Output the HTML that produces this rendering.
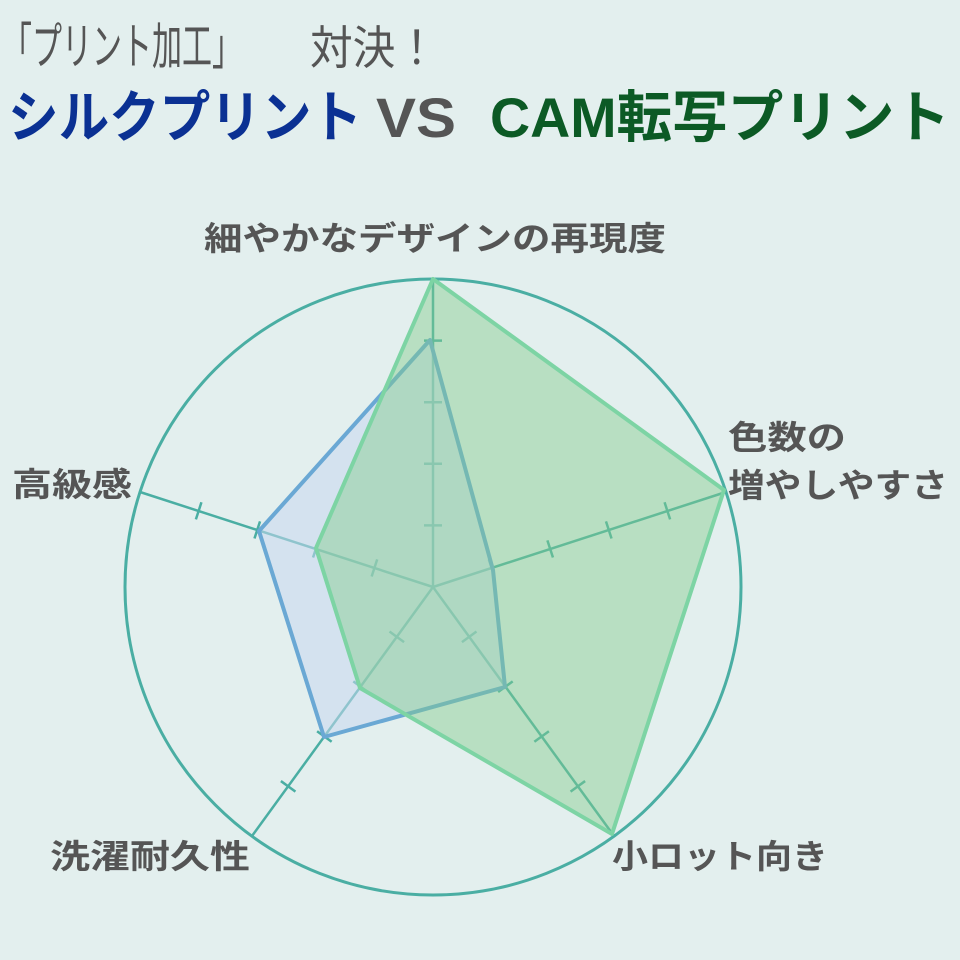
<!DOCTYPE html>
<html><head><meta charset="utf-8"><style>
html,body{margin:0;padding:0;background:#e3efee;}
svg{display:block}
text{font-family:"Liberation Sans","Noto Sans CJK JP",sans-serif;}
</style></head><body>
<svg width="960" height="960" viewBox="0 0 960 960" xmlns="http://www.w3.org/2000/svg">
<rect width="960" height="960" fill="#e3efee"/>
<text x="2" y="64" style="font-size:50px" fill="#555" textLength="240" lengthAdjust="spacingAndGlyphs">「プリント加工」</text>
<text x="310" y="64" style="font-size:46px" fill="#555" textLength="128" lengthAdjust="spacingAndGlyphs">対決！</text>
<g font-weight="bold" style="font-size:56px">
<text x="8" y="137" fill="#0b3193" textLength="354" lengthAdjust="spacingAndGlyphs">シルクプリント</text>
<text x="376" y="137" fill="#555" textLength="80" lengthAdjust="spacingAndGlyphs">VS</text>
<text x="490" y="137" fill="#0c5a25" textLength="460" lengthAdjust="spacingAndGlyphs">CAM転写プリント</text>
</g>
<circle cx="433" cy="587" r="308" fill="none" stroke="#4aaea3" stroke-width="3"/>
<g stroke="#4aaea3" stroke-width="2.5">
<line x1="433" y1="587" x2="433" y2="279"/>
<line x1="433" y1="587" x2="726" y2="492"/>
<line x1="433" y1="587" x2="614" y2="836"/>
<line x1="433" y1="587" x2="252" y2="836"/>
<line x1="433" y1="587" x2="140" y2="492"/>
</g>
<g stroke="#4aaea3" stroke-width="2.5" id="ticks"></g>
<polygon points="430,340 493,570 505,687 324,737 259,531" fill="rgba(200,215,240,0.55)" stroke="#6aa8d4" stroke-width="4" stroke-linejoin="round"/>
<polygon points="433,279 724,490 612,834 360,688 316,548" fill="rgba(130,205,140,0.45)" stroke="#7dd4a4" stroke-width="4" stroke-linejoin="round"/>
<g font-weight="bold" font-size="33" fill="#555">
<text x="204" y="250" textLength="462" lengthAdjust="spacingAndGlyphs">細やかなデザインの再現度</text>
<text x="728" y="449" textLength="118" lengthAdjust="spacingAndGlyphs">色数の</text>
<text x="728" y="497" textLength="220" lengthAdjust="spacingAndGlyphs">増やしやすさ</text>
<text x="12" y="496" textLength="120" lengthAdjust="spacingAndGlyphs">高級感</text>
<text x="50" y="868" textLength="200" lengthAdjust="spacingAndGlyphs">洗濯耐久性</text>
<text x="612" y="868" textLength="216" lengthAdjust="spacingAndGlyphs">小ロット向き</text>
</g>
<script>
var g=document.getElementById('ticks'),cx=433,cy=587,R=308;
[90,18,-54,-126,162].forEach(function(a){var r=a*Math.PI/180,ux=Math.cos(r),uy=-Math.sin(r),px=-uy,py=ux;
for(var i=1;i<5;i++){var d=R*i/5,x=cx+ux*d,y=cy+uy*d;var l=document.createElementNS('http://www.w3.org/2000/svg','line');
l.setAttribute('x1',x-px*9);l.setAttribute('y1',y-py*9);l.setAttribute('x2',x+px*9);l.setAttribute('y2',y+py*9);g.appendChild(l);}});
</script>
</svg>
</body></html>
